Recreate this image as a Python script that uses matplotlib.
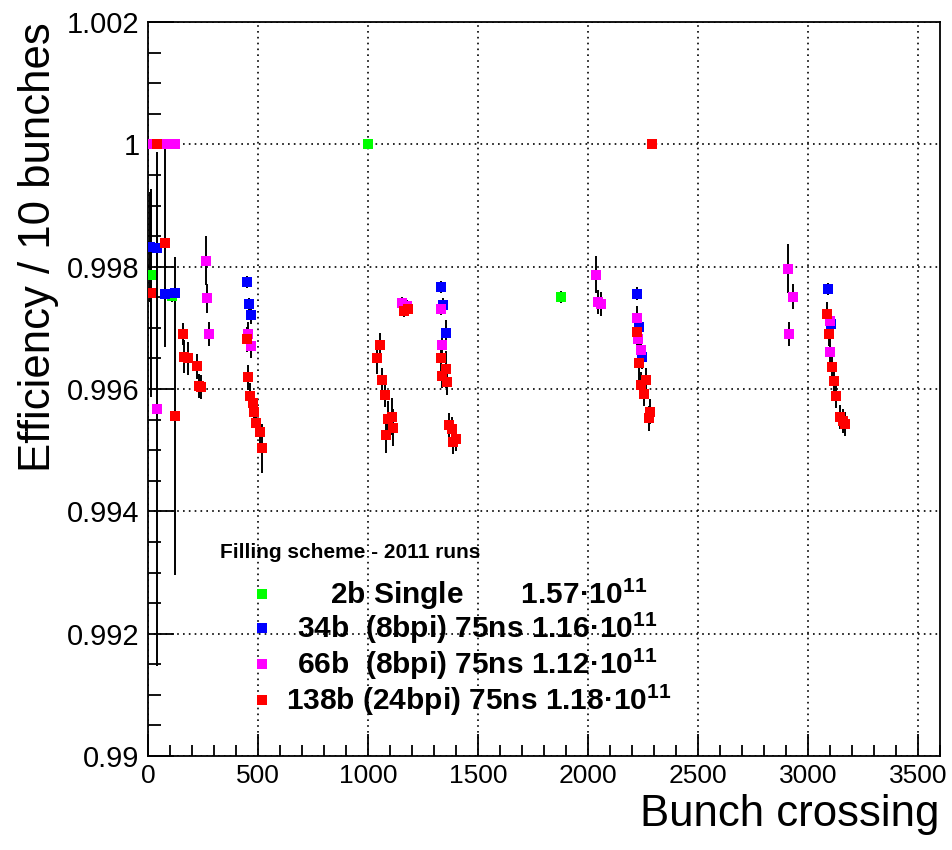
import numpy as np
import matplotlib
matplotlib.use("Agg")
import matplotlib.pyplot as plt
from matplotlib.ticker import MultipleLocator, FixedFormatter, FixedLocator

plt.rcParams['font.family'] = ['Liberation Sans', 'DejaVu Sans']
plt.rcParams['mathtext.fontset'] = 'custom'
plt.rcParams['mathtext.rm'] = 'Liberation Sans:bold'
plt.rcParams['mathtext.bf'] = 'Liberation Sans:bold'
plt.rcParams['mathtext.default'] = 'bf'

# 2b Single
green_x = [14, 108, 1000, 1877]
green_y = [0.99787, 0.99752, 1.0, 0.99750]
green_e = [0.0014, 0.0001, 0.0, 0.0001]

# 34b (8bpi)
blue_x = [9, 42, 77, 123, 449, 459, 467, 1332, 1341, 1355, 2224, 2232, 2244, 3091, 3105]
blue_y = [0.99832, 0.99830, 0.99756, 0.99757, 0.99775, 0.99739, 0.99721, 0.99767,
          0.99738, 0.99692, 0.99756, 0.99701, 0.99652, 0.99764, 0.99707]
blue_e = [0.0009, 0.0003, 0.0001, 0.0001, 0.0001, 0.0001, 0.00015, 0.0001,
          0.0001, 0.0002, 0.0001, 0.0002, 0.0002, 0.0001, 0.0002]

# 66b (8bpi)
magenta_x = [9, 42, 82, 123, 262, 270, 277, 456, 467, 1155, 1175, 1332, 1335,
             2036, 2047, 2059, 2224, 2229, 2241, 2909, 2932, 2914, 3100, 3102]
magenta_y = [1.0, 0.99567, 1.0, 1.0, 0.99810, 0.99748, 0.99690, 0.99690, 0.99671,
             0.99740, 0.99735, 0.99731, 0.99672, 0.99787, 0.99742, 0.99739,
             0.99716, 0.99681, 0.99664, 0.99797, 0.99751, 0.99690, 0.99711, 0.99661]
magenta_e = [0.0, 0.0042, 0.0, 0.0, 0.0004, 0.00023, 0.0002, 0.0002, 0.0002,
             0.0001, 0.0001, 0.0001, 0.0002, 0.0003, 0.0002, 0.0002,
             0.0002, 0.0002, 0.0002, 0.0004, 0.0002, 0.0002, 0.0002, 0.0002]

# 138b (24bpi)
red_x = [14, 42, 77, 123, 158, 165, 183, 221, 233, 241,
         449, 456, 464, 476, 482, 491, 509, 516,
         1039, 1055, 1062, 1077, 1082, 1092, 1107, 1115, 1165, 1180,
         1330, 1335, 1355, 1360, 1368, 1380, 1388, 1400,
         2224, 2232, 2241, 2256, 2262, 2275, 2282, 2291,
         3088, 3095, 3109, 3118, 3127, 3145, 3159, 3168]
red_y = [0.99757, 1.0, 0.99839, 0.99556, 0.99690, 0.99653, 0.99650, 0.99637, 0.99605, 0.99603,
         0.99681, 0.99619, 0.99589, 0.99577, 0.99562, 0.99545, 0.99529, 0.99503,
         0.99650, 0.99672, 0.99614, 0.99590, 0.99525, 0.99551, 0.99555, 0.99537, 0.99728, 0.99730,
         0.99650, 0.99621, 0.99632, 0.99611, 0.99541, 0.99534, 0.99514, 0.99519,
         0.99693, 0.99643, 0.99607, 0.99592, 0.99614, 0.99552, 0.99563, 1.0,
         0.99723, 0.99690, 0.99636, 0.99613, 0.99589, 0.99554, 0.99548, 0.99543]
red_e = [0.0017, 0.0, 0.0017, 0.0026, 0.00018, 0.00027, 0.00027, 0.0002, 0.0002, 0.0002,
         0.0002, 0.0002, 0.0002, 0.0002, 0.0002, 0.0002, 0.0002, 0.0004,
         0.00025, 0.0002, 0.0002, 0.0002, 0.0003, 0.0003, 0.0003, 0.0003, 0.0001, 0.0001,
         0.0003, 0.0002, 0.0003, 0.0002, 0.0002, 0.0002, 0.0002, 0.0002,
         0.0003, 0.0003, 0.0002, 0.0002, 0.0002, 0.0002, 0.0002, 0.0,
         0.0002, 0.0002, 0.0002, 0.0002, 0.0002, 0.0002, 0.0002, 0.0002]

series = [
    (green_x, green_y, green_e, '#00ff00', '2b Single       1.57·10$^{11}$'),
    (blue_x, blue_y, blue_e, '#0000ff', '34b  (8bpi) 75ns 1.16·10$^{11}$'),
    (magenta_x, magenta_y, magenta_e, '#ff00ff', '66b  (8bpi) 75ns 1.12·10$^{11}$'),
    (red_x, red_y, red_e, '#ff0000', '138b (24bpi) 75ns 1.18·10$^{11}$'),
]

fig = plt.figure(figsize=(9.52, 8.5), dpi=100)
ax = fig.add_axes([148 / 952, 1 - 756 / 850, 792 / 952, 734 / 850])

for x, y, e, c, _ in series:
    ax.errorbar(x, y, yerr=e, fmt='none', ecolor='black', elinewidth=1.4, capsize=0, zorder=3)
    ax.plot(x, y, 's', color=c, markersize=6.5, markeredgewidth=0, zorder=4)

ax.set_xlim(0, 3600)
ax.set_ylim(0.99, 1.002)

ax.xaxis.set_major_locator(MultipleLocator(500))
ax.xaxis.set_minor_locator(MultipleLocator(100))
yticks = [0.990, 0.992, 0.994, 0.996, 0.998, 1.0, 1.002]
ax.yaxis.set_major_locator(FixedLocator(yticks))
ax.yaxis.set_major_formatter(FixedFormatter(['0.99', '0.992', '0.994', '0.996', '0.998', '1', '1.002']))
ax.yaxis.set_minor_locator(MultipleLocator(0.0005))

ax.tick_params(axis='both', which='both', direction='in', top=False, right=False, width=1.3, color='black')
ax.tick_params(axis='y', which='major', length=19, labelsize=21, pad=6)
ax.tick_params(axis='y', which='minor', length=9.5)
ax.tick_params(axis='x', which='major', length=16, labelsize=19, pad=6)
ax.tick_params(axis='x', which='minor', length=8)

ax.grid(True, which='major', color='black', linestyle=(0, (1, 2.5)), linewidth=1.2)
for s in ax.spines.values():
    s.set_linewidth(1.3)

ax.set_ylabel('Efficiency / 10 bunches', fontsize=31.5, loc='top', labelpad=6)
ax.set_xlabel('Bunch crossing', fontsize=31.5, loc='right', labelpad=4)

# legend block, placed in axes fraction
ax.text(0.0909, 0.2766, 'Filling scheme - 2011 runs', transform=ax.transAxes,
        fontsize=15, fontweight='bold', va='center', ha='left')
leg_y = [0.2207, 0.1744, 0.1253, 0.0763]
leg_tx = [0.2298, 0.1881, 0.1881, 0.1742]
for (x, y, e, c, lab), ly, tx in zip(series, leg_y, leg_tx):
    ax.plot([0.1439], [ly], 's', color=c, markersize=6.5, markeredgewidth=0,
            transform=ax.transAxes, clip_on=False)
    ax.text(tx, ly, lab, transform=ax.transAxes, fontsize=21.5, fontweight='bold',
            va='center', ha='left')

fig.savefig('out.png', dpi=100)
